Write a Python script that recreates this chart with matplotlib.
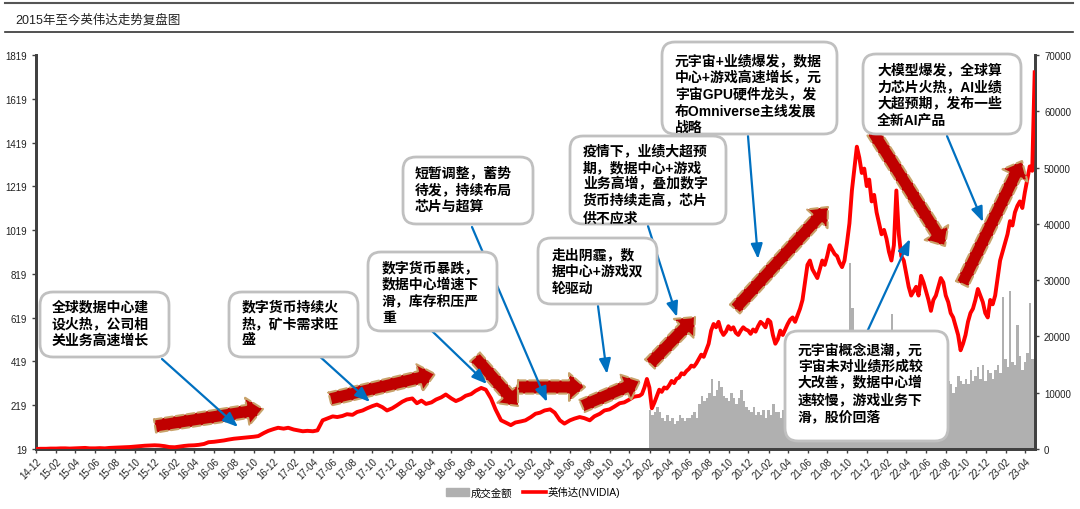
import pandas as pd
import matplotlib
matplotlib.use('Agg')
import matplotlib.pyplot as plt
import matplotlib.dates as mdates
import matplotlib.transforms as mtransforms
from matplotlib.patches import FancyBboxPatch, FancyArrowPatch, Patch
from matplotlib.lines import Line2D

plt.rcParams['font.family'] = ['Liberation Sans', 'Noto Sans CJK SC', 'DejaVu Sans']

# 英伟达股价：2014-12 至 2019-12 每月两点（1日、15日）
price_early = [
    19, 20, 20, 21, 21, 22, 22, 21, 22, 23, 24, 22, 22, 23, 22, 24, 25, 26, 27, 28, 30, 32, 34, 35,
    36, 35, 32, 28, 27, 30, 33, 35, 36, 38, 42, 50, 52, 55, 58, 62, 66, 68, 70, 72, 75, 78, 92, 102,
    110, 116, 112, 116, 108, 104, 100, 102, 100, 104, 150, 158, 168, 165, 170, 178, 175, 188, 195, 205, 215, 222, 210, 195,
    205, 218, 235, 245, 250, 228, 240, 225, 232, 245, 255, 268, 250, 238, 248, 262, 270, 285, 298, 290, 250, 200, 150, 140,
    128, 140, 145, 150, 165, 180, 185, 195, 200, 185, 150, 135, 150, 158, 165, 160, 150, 168, 180, 195, 200, 212, 228, 232,
    245, 258,
]
# 2020-01 至 2023-04 每月四点，最后一点为 2023-05 初
price_recent = [
    262, 270, 300, 339, 300, 205, 230, 260, 290, 280, 300, 295, 310, 330, 320, 340,
    345, 365, 360, 375, 385, 400, 395, 410, 430, 450, 440, 470, 500, 560, 590, 575,
    600, 560, 540, 555, 580, 565, 575, 550, 540, 560, 575, 565, 560, 545, 565, 555,
    580, 600, 590, 575, 610, 600, 540, 500, 520, 560, 540, 565, 590, 610, 620, 600,
    630, 660, 700, 780, 860, 880, 840, 820, 800, 840, 880, 860, 900, 950, 930, 910,
    900, 870, 850, 880, 960, 1050, 1200, 1300, 1400, 1350, 1280, 1300, 1220, 1250, 1150, 1180,
    1100, 1050, 1000, 1020, 980, 920, 880, 950, 1200, 1000, 900, 880, 820, 760, 720, 740,
    760, 720, 810, 780, 740, 700, 650, 700, 720, 760, 800, 780, 720, 690, 640, 620,
    580, 540, 470, 500, 540, 600, 640, 660, 700, 750, 720, 690, 640, 620, 700, 680,
    720, 800, 880, 920, 960, 1000, 1060, 1040, 1100, 1130, 1150, 1120, 1190, 1250, 1310, 1290,
    1740,
]
price = price_early + price_recent
price_dates = pd.DatetimeIndex(
    list(pd.date_range('2014-12-01', periods=len(price_early), freq='SMS'))
    + list(pd.date_range('2020-01-01', '2023-05-01', periods=len(price_recent)))
)

# 成交金额，每月四根柱，2020-02 至 2023-04
volume = [
    7000, 6000, 6500, 7500, 6500, 5500, 5000, 6000, 5000, 5500, 4500, 5000,
    6000, 5500, 5000, 5500, 5500, 6000, 6500, 5500, 8000, 9500, 8500, 9000,
    10000, 12500, 9500, 10500, 12000, 11000, 9500, 9000, 8500, 10000, 9000, 8000,
    9000, 10500, 8500, 7500, 7000, 6500, 7500, 6000,
    6500, 6000, 7000, 5500, 7000, 6000, 8000, 6500, 6500, 5500, 7000, 6000,
    7000, 6500, 6000, 7500, 7000, 8500, 7500, 8000, 9000, 7500, 8500, 7000,
    8000, 7000, 9000, 7500, 8000, 9500, 8500, 7500, 8500, 7500, 7000, 8000,
    9000, 33000, 25000, 11000, 12500, 11000, 13000, 10500, 11500, 10000, 12000, 9500,
    10500, 12000, 11000, 10000, 11000, 12500, 24000, 10500, 11500, 10000, 12000, 10500,
    9500, 11000, 10000, 9000, 10500, 12000, 9500, 11000, 10000, 11500, 9000, 10500,
    9500, 10000, 11000, 9000, 10500, 12000, 11500, 10000, 11000, 13000, 12000, 11500,
    12500, 11500, 14000, 12000, 13000, 14500, 12500, 15000, 12000, 14000, 13500, 12500,
    14000, 15000, 13500, 27000, 16000, 14500, 28000, 15500, 15000, 22000, 16500, 14000,
    15500, 17000, 26000, 16000,
]
vol_dates = pd.date_range('2020-02-03', '2023-04-24', periods=len(volume))

# 注释框：框的像素范围、文字左上角、文字
boxes = [
    (40, 293, 169, 358, 52, 300, '全球数据中心建\n设火热，公司相\n关业务高速增长'),
    (229, 293, 358, 358, 242, 300, '数字货币持续火\n热，矿卡需求旺\n盛'),
    (368, 253, 497, 332, 382, 261, '数字货币暴跌，\n数据中心增速下\n滑，库存积压严\n重'),
    (403, 158, 533, 225, 415, 166, '短暂调整，蓄势\n待发，持续布局\n芯片与超算'),
    (538, 239, 657, 305, 552, 248, '走出阴霾，数\n据中心+游戏双\n轮驱动'),
    (570, 137, 726, 225, 583, 144, '疫情下，业绩大超预\n期，数据中心+游戏\n业务高增，叠加数字\n货币持续走高，芯片\n供不应求'),
    (662, 43, 837, 135, 675, 54, '元宇宙+业绩爆发，数据\n中心+游戏高速增长，元\n宇宙GPU硬件龙头，发\n布Omniverse主线发展\n战略'),
    (863, 55, 1021, 135, 877, 63, '大模型爆发，全球算\n力芯片火热，AI业绩\n大超预期，发布一些\n全新AI产品'),
    (785, 332, 948, 442, 798, 343, '元宇宙概念退潮，元\n宇宙未对业绩形成较\n大改善，数据中心增\n速较慢，游戏业务下\n滑，股价回落'),
]
blue_arrows = [
    (162, 360, 238, 428), (317, 355, 370, 403), (432, 332, 487, 385),
    (472, 228, 547, 403), (598, 307, 607, 375), (648, 227, 677, 318),
    (748, 137, 758, 260), (947, 137, 983, 223), (867, 333, 910, 240),
]
red_arrows = [
    (155, 427, 263, 410), (330, 400, 435, 375), (475, 358, 518, 407),
    (518, 388, 585, 388), (582, 407, 640, 382), (650, 365, 695, 318),
    (735, 310, 828, 208), (873, 133, 945, 247), (962, 285, 1022, 162),
]

fig = plt.figure(figsize=(10.8, 5.1), dpi=100)
ax = fig.add_axes([36 / 1080, 60 / 510, 999 / 1080, 394 / 510])
ax2 = ax.twinx()
ax.set_zorder(ax2.get_zorder() + 1)
ax.patch.set_visible(False)

ax2.bar(vol_dates, volume, width=7.6, color='#B0B0B0', linewidth=0)
ax.plot(price_dates, price, color='#FF0000', lw=2.8, zorder=3)

ax.set_xlim(pd.Timestamp('2014-12-01'), pd.Timestamp('2023-05-02'))
ax.set_ylim(19, 1819)
ax.set_yticks(range(19, 1820, 200))
ax2.set_ylim(0, 70000)
ax2.set_yticks(range(0, 70001, 10000))

ax.xaxis.set_major_locator(mdates.MonthLocator(bymonth=(2, 4, 6, 8, 10, 12)))
ax.xaxis.set_major_formatter(mdates.DateFormatter('%y-%m'))
for lab in ax.get_xticklabels():
    lab.set_rotation(45)
    lab.set_ha('right')
    lab.set_rotation_mode('anchor')

for a in (ax, ax2):
    a.spines['top'].set_visible(False)
    for s in ('left', 'bottom', 'right'):
        a.spines[s].set_color('#404040')
        a.spines[s].set_linewidth(2)
    a.tick_params(axis='both', labelsize=7, length=3, width=1, color='#404040', labelcolor='#222222')
ax.tick_params(axis='x', labelsize=7, pad=2)

# 注释，坐标为画布像素（左上为原点）
pix = mtransforms.Affine2D().scale(1 / 1080, -1 / 510).translate(0, 1) + fig.transFigure

for x0, y0, x1, y1 in red_arrows:
    ax.add_patch(FancyArrowPatch((x0, y0), (x1, y1), transform=pix, shrinkA=0, shrinkB=0,
                                 arrowstyle='simple,head_length=1.15,head_width=2.0,tail_width=0.95',
                                 mutation_scale=10, fc='#C00000', ec='#C8A26A', lw=1.5, ls='--',
                                 zorder=4, clip_on=False))
for x0, y0, x1, y1 in blue_arrows:
    ax.add_patch(FancyArrowPatch((x0, y0), (x1, y1), transform=pix, shrinkA=0, shrinkB=0,
                                 arrowstyle='-|>,head_length=0.9,head_width=0.35',
                                 mutation_scale=10, color='#0070C0', lw=1.6, zorder=5, clip_on=False))
for x0, y0, x1, y1, tx, ty, txt in boxes:
    ax.add_patch(FancyBboxPatch((x0, y0), x1 - x0, y1 - y0, transform=pix,
                                boxstyle='round,pad=0,rounding_size=13',
                                fc='white', ec='#C0C0C0', lw=2, zorder=6, clip_on=False))
    ax.text(tx, ty, txt, transform=pix, ha='left', va='top', fontsize=10, fontweight='bold',
            linespacing=1.25, color='black', zorder=7)

# 标题与分隔线
fig.text(15 / 1080, 1 - 20 / 510, '2015年至今英伟达走势复盘图', fontsize=9, va='center', color='#222222')
fig.add_artist(Line2D([5 / 1080, 1073 / 1080], [1 - 4 / 510] * 2, color='#555555', lw=1.5))
fig.add_artist(Line2D([5 / 1080, 1073 / 1080], [1 - 33 / 510] * 2, color='#333333', lw=1.2))

handles = [Patch(color='#B0B0B0'), Line2D([], [], color='#FF0000', lw=2.6)]
fig.legend(handles, ['成交金额', '英伟达(NVIDIA)'], loc='center', bbox_to_anchor=(533 / 1080, 1 - 493 / 510),
           ncol=2, frameon=False, fontsize=7.5, handlelength=2.2, columnspacing=1.0, handletextpad=0.2)

fig.savefig('out.png', dpi=100)
